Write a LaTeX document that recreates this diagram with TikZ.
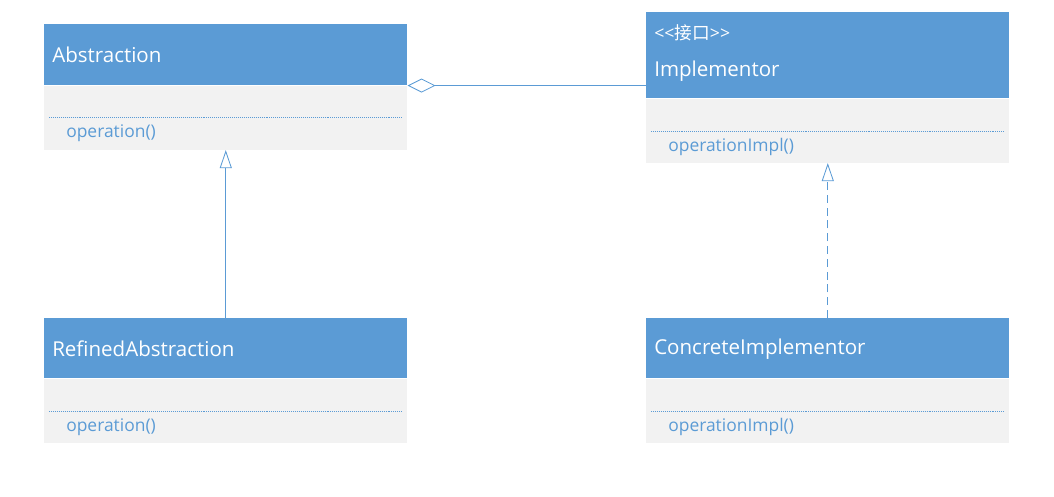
\documentclass[tikz,border=0pt]{standalone}
\usepackage{fontspec}
\setmainfont{Open Sans}
\newfontfamily\cjk{Noto Sans CJK SC}
\usetikzlibrary{arrows.meta,positioning}

\definecolor{umlblue}{HTML}{5B9BD5}
\definecolor{umlgray}{HTML}{F2F2F2}

\tikzset{
	classhead/.style={fill=umlblue, minimum width=9.075cm, anchor=north west, inner sep=0pt},
	classbody/.style={fill=umlgray, minimum width=9.075cm, minimum height=1.6cm, anchor=north west, inner sep=0pt},
	classname/.style={anchor=west, text=white, inner sep=0pt, font=\fontsize{14.6}{17}\selectfont},
	stereo/.style={anchor=west, text=white, inner sep=0pt, font=\fontsize{12.6}{15}\selectfont},
	method/.style={anchor=west, text=umlblue, inner sep=0pt, font=\fontsize{12.4}{15}\selectfont},
	sepline/.style={umlblue, densely dotted, line width=0.4pt},
	link/.style={umlblue, line width=0.6pt},
}

\begin{document}
\begin{tikzpicture}
	\useasboundingbox (0,0) rectangle (26.35,12.425);
	
	% Abstraction
	\node[classhead, minimum height=1.525cm] (abs) at (1.1,11.825) {};
	\node[classbody] (absbody) at (abs.south west) {};
	\node[classname] (absname) at (1.3,11.05) {Abstraction};
	\draw[sepline] (1.225,9.5) -- (10.05,9.5);
	\node[method] (absop) at (1.65,9.1) {operation()};
	
	% Implementor
	\node[classhead, minimum height=2.15cm] (impl) at (16.15,12.125) {};
	\node[classbody] (implbody) at (impl.south west) {};
	\node[stereo] (implstereo) at (16.35,11.6) {<{}<{\cjk 接口}>{}>};
	\node[classname] (implname) at (16.35,10.65) {Implementor};
	\draw[sepline] (16.275,9.15) -- (25.1,9.15);
	\node[method] (implop) at (16.7,8.75) {operationImpl()};
	
	% RefinedAbstraction
	\node[classhead, minimum height=1.5cm] (ref) at (1.1,4.475) {};
	\node[classbody] (refbody) at (ref.south west) {};
	\node[classname] (refname) at (1.3,3.7) {RefinedAbstraction};
	\draw[sepline] (1.225,2.15) -- (10.05,2.15);
	\node[method] (refop) at (1.65,1.75) {operation()};
	
	% ConcreteImplementor
	\node[classhead, minimum height=1.5cm] (conc) at (16.15,4.475) {};
	\node[classbody] (concbody) at (conc.south west) {};
	\node[classname] (concname) at (16.35,3.7) {ConcreteImplementor};
	\draw[sepline] (16.275,2.15) -- (25.1,2.15);
	\node[method] (concop) at (16.7,1.75) {operationImpl()};
	
	% Relations
	\draw[link, {Diamond[open, length=0.7cm, width=0.35cm]}-] (absbody.north east) -- (absbody.north east -| impl.west);
	\draw[link, -{Triangle[open, length=0.45cm, width=0.3cm]}] (ref.north) -- (absbody.south);
	\draw[link, dash pattern=on 0.2cm off 0.12cm, -{Triangle[open, length=0.45cm, width=0.3cm]}] (conc.north) -- (implbody.south);
\end{tikzpicture}
\end{document}
